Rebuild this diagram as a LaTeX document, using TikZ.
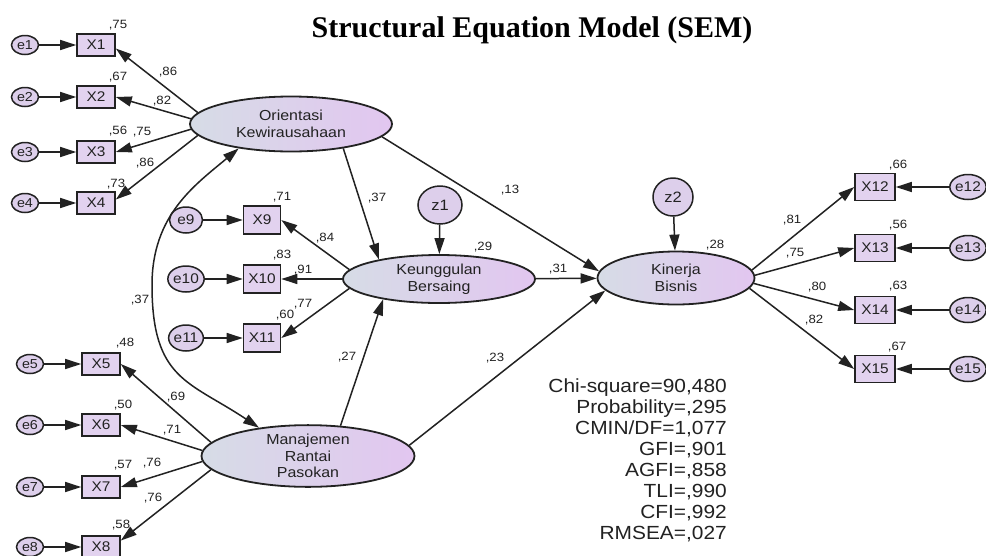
\documentclass[tikz,border=0pt]{standalone}
\usepackage{fontspec}
\newfontfamily\amos{Liberation Sans}[FakeStretch=1.1]
\newfontfamily\ttl{Liberation Serif}
\usetikzlibrary{arrows.meta,shapes.geometric}
\definecolor{ellL}{HTML}{D6DCE6}
\definecolor{ellR}{HTML}{E2C6F0}
\definecolor{boxF}{HTML}{E2D2EF}
\definecolor{errF}{HTML}{DDCFEB}
\definecolor{ink}{HTML}{222222}
\tikzset{
  lat/.style={ellipse, draw=ink, line width=1.8pt, left color=ellL, right color=ellR, inner sep=0pt, align=center, font=\amos\fontsize{14.5}{16.5}\selectfont, text=ink},
  obs/.style={rectangle, draw=ink, line width=1.6pt, fill=boxF, inner sep=0pt, font=\amos\fontsize{14}{16}\selectfont, text=ink},
  errc/.style={ellipse, draw=ink, line width=1.5pt, fill=errF, inner sep=0pt, font=\amos\fontsize{13}{15}\selectfont, text=ink},
  lab/.style={font=\amos\fontsize{12}{14}\selectfont, text=ink, inner sep=0pt},
  arr/.style={draw=ink, line width=1.5pt, -{Triangle[length=16pt,width=10pt]}},
  darr/.style={draw=ink, line width=1.5pt, {Triangle[length=16pt,width=10pt]}-{Triangle[length=16pt,width=10pt]}}
}
\begin{document}
\begin{tikzpicture}[x=1pt,y=-1pt]
\useasboundingbox[fill=white] (0,0) rectangle (986,555);
% title
\node[font=\ttl\bfseries\fontsize{30}{33}\selectfont, inner sep=0pt, anchor=base] (title) at (532,37) {Structural Equation Model (SEM)};
% latent
\node[lat, minimum width=202pt, minimum height=55pt] (OK) at (291,124) {Orientasi\\Kewirausahaan};
\node[lat, minimum width=192pt, minimum height=48pt] (KB) at (439,279) {Keunggulan\\Bersaing};
\node[lat, minimum width=157pt, minimum height=53pt] (KN) at (676,278) {Kinerja\\Bisnis};
\node[lat, minimum width=213pt, minimum height=55pt] (MR) at (308,456) {Manajemen\\Rantai\\Pasokan};
\node[errc, minimum width=44pt, minimum height=38pt, font=\amos\fontsize{15}{17}\selectfont] (z1) at (440,205) {z1};
\node[errc, minimum width=40pt, minimum height=38pt, font=\amos\fontsize{15}{17}\selectfont] (z2) at (673,197) {z2};
% left top indicators
\foreach \i/\y/\a/\b in {1/45/173/350,2/97/177/0,3/152/183/0,4/203/187/10}{
  \node[obs, minimum width=38pt, minimum height=22pt] (X\i) at (96,\y) {X\i};
  \node[errc, minimum width=27pt, minimum height=19pt] (e\i) at (25,\y) {e\i};
  \draw[arr] (e\i) -- (X\i);
  \draw[arr] (OK.\a) -- (X\i.\b);
}
% left bottom indicators
\foreach \i/\y/\a/\b in {5/364/172/0,6/425/177/0,7/487/183/0,8/547/188/18}{
  \node[obs, minimum width=38pt, minimum height=22pt] (X\i) at (101,\y) {X\i};
  \node[errc, minimum width=27pt, minimum height=19pt] (e\i) at (30,\y) {e\i};
  \draw[arr] (e\i) -- (X\i);
  \draw[arr] (MR.\a) -- (X\i.\b);
}
% middle indicators
\foreach \i/\y/\a in {9/220/174,10/279/180,11/338/186}{
  \node[obs, minimum width=37pt, minimum height=28pt] (X\i) at (262,\y) {X\i};
  \node[errc, minimum width=33pt, minimum height=26pt, font=\amos\fontsize{14}{16}\selectfont] (e\i) at (186,\y) {e\i};
  \draw[arr] (e\i) -- (X\i);
  \draw[arr] (KB.\a) -- (X\i.east);
}
% right indicators
\foreach \i/\y/\a in {12/187/6,13/248/2,14/310/356,15/369/352}{
  \node[obs, minimum width=40pt, minimum height=27pt] (X\i) at (875,\y) {X\i};
  \node[errc, minimum width=31pt, minimum height=25pt, font=\amos\fontsize{14}{16}\selectfont] (e\i) at (968,\y) {e\i};
  \draw[arr] (e\i) -- (X\i);
  \draw[arr] (KN.\a) -- (X\i.west);
}
% structural paths
\draw[arr] (OK.335) -- (KB.162);
\draw[arr] (OK.352) -- (KN.175);
\draw[arr] (MR.43) -- (KB.200);
\draw[arr] (MR.6) -- (KN.190);
\draw[arr] (KB) -- (KN);
\draw[arr] (z1) -- (KB);
\draw[arr] (z2) -- (KN);
\coordinate (covL) at (152,285);
\draw[darr] (OK.205) .. controls (195,185) and (152,215) .. (covL) .. controls (152,380) and (189,381) .. (MR.150);
% labels
\node[lab] (l1) at (118,25) {,75};
\node[lab] (l2) at (118,77) {,67};
\node[lab] (l3) at (118,131) {,56};
\node[lab] (l4) at (116,184) {,73};
\node[lab] (p1) at (168,72) {,86};
\node[lab] (p2) at (162,101) {,82};
\node[lab] (p3) at (142,132) {,75};
\node[lab] (p4) at (145,163) {,86};
\node[lab] (l9) at (282,197) {,71};
\node[lab] (l10) at (282,255) {,83};
\node[lab] (l11) at (285,315) {,60};
\node[lab] (p9) at (325,238) {,84};
\node[lab] (p10) at (303,270) {,91};
\node[lab] (p11) at (303,304) {,77};
\node[lab] (s1) at (377,198) {,37};
\node[lab] (rKB) at (483,247) {,29};
\node[lab] (l12) at (898,165) {,66};
\node[lab] (l13) at (898,225) {,56};
\node[lab] (l14) at (898,286) {,63};
\node[lab] (l15) at (897,347) {,67};
\node[lab] (p12) at (792,220) {,81};
\node[lab] (p13) at (795,253) {,75};
\node[lab] (p14) at (817,287) {,80};
\node[lab] (p15) at (814,320) {,82};
\node[lab] (rKN) at (715,245) {,28};
\node[lab] (s2) at (510,190) {,13};
\node[lab] (s3) at (558,269) {,31};
\node[lab] (s4) at (495,358) {,23};
\node[lab] (s5) at (347,357) {,27};
\node[lab] (l5) at (125,343) {,48};
\node[lab] (l6) at (123,405) {,50};
\node[lab] (l7) at (123,465) {,57};
\node[lab] (l8) at (121,525) {,58};
\node[lab] (p5) at (176,397) {,69};
\node[lab] (p6) at (172,430) {,71};
\node[lab] (p7) at (152,463) {,76};
\node[lab] (p8) at (153,498) {,76};
\node[lab] (cov) at (140,300) {,37};
% fit statistics
\node[font=\amos\fontsize{19}{21}\selectfont, text=ink, align=right, anchor=north east, inner sep=0pt] (fit) at (727,379)
 {Chi-square=90,480\\Probability=,295\\CMIN/DF=1,077\\GFI=,901\\AGFI=,858\\TLI=,990\\CFI=,992\\RMSEA=,027};
\end{tikzpicture}
\end{document}
